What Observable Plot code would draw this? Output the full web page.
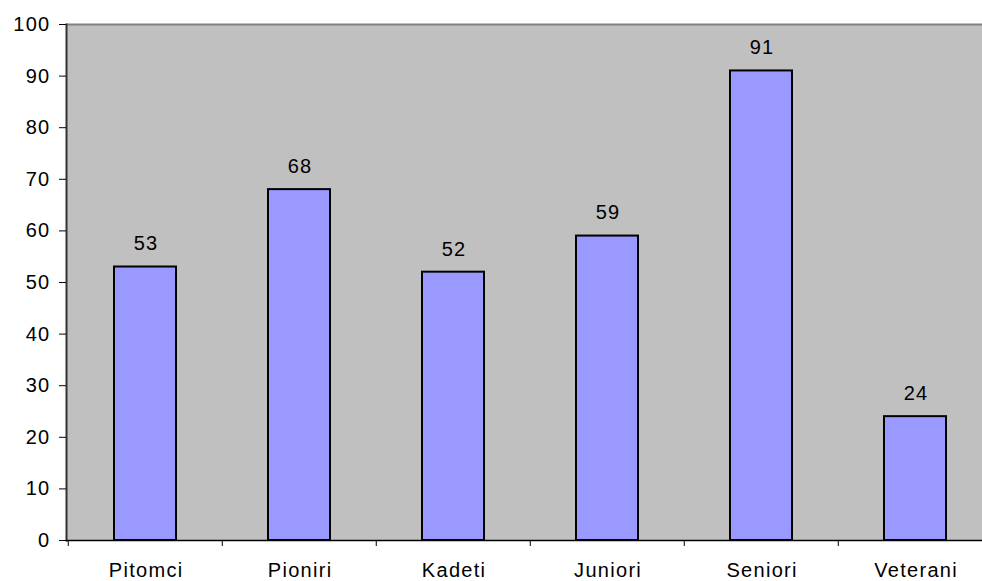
<!DOCTYPE html>
<html>
<head>
<meta charset="utf-8">
<script src="https://cdn.jsdelivr.net/npm/d3@7"></script>
<script src="https://cdn.jsdelivr.net/npm/@observablehq/plot@0.6"></script>
<style>
  html, body { margin: 0; padding: 0; background: #ffffff; overflow: hidden; }
  #chart { width: 982px; height: 581px; overflow: hidden; }
  #chart svg { max-width: none !important; }
  #chart svg text { letter-spacing: 1.3px; }
</style>
</head>
<body>
<div id="chart"></div>
<script>
const categories = ["Pitomci", "Pioniri", "Kadeti", "Juniori", "Seniori", "Veterani"];
const values = [53, 68, 52, 59, 91, 24];
const yTicks = [0, 10, 20, 30, 40, 50, 60, 70, 80, 90, 100];

const data = categories.map((c, i) => ({category: c, value: values[i]}));
const font = "'Liberation Sans', Arial, sans-serif";

const chart = Plot.plot({
  width: 993,
  height: 581,
  marginLeft: 66,
  marginRight: 0,
  marginTop: 24,
  marginBottom: 41,
  style: {fontFamily: font, fontSize: "20px", color: "#000", background: "#ffffff", maxWidth: "none"},
  x: {domain: categories, type: "band", paddingInner: 0.6, paddingOuter: 0.3, label: null},
  y: {domain: [0, 100], label: null},
  marks: [
    Plot.frame({fill: "#c0c0c0", stroke: null}),
    Plot.ruleY([100], {stroke: "#808080", strokeWidth: 2}),
    Plot.frame({anchor: "left", stroke: "#333", strokeWidth: 2}),
    Plot.barY(data, {x: "category", y: "value", fill: "#9999ff", stroke: "#000", strokeWidth: 2}),
    Plot.text(data, {x: "category", y: "value", text: d => String(d.value), dy: -23, dx: 0.6, fontSize: 20, fill: "#000"}),
    Plot.ruleY([0], {stroke: "#000", strokeWidth: 1.5}),
    Plot.axisY({ticks: yTicks, tickSize: 7, tickPadding: 9, fontSize: 20, stroke: "#000", label: null}),
    Plot.axisX({tickSize: 0, tickPadding: 22, fontSize: 20, dx: 0.6, label: null}),
    Plot.axisX({tickSize: 6, text: null, dx: -77.25, stroke: "#000", label: null})
  ]
});
document.getElementById("chart").appendChild(chart);
</script>
</body>
</html>
